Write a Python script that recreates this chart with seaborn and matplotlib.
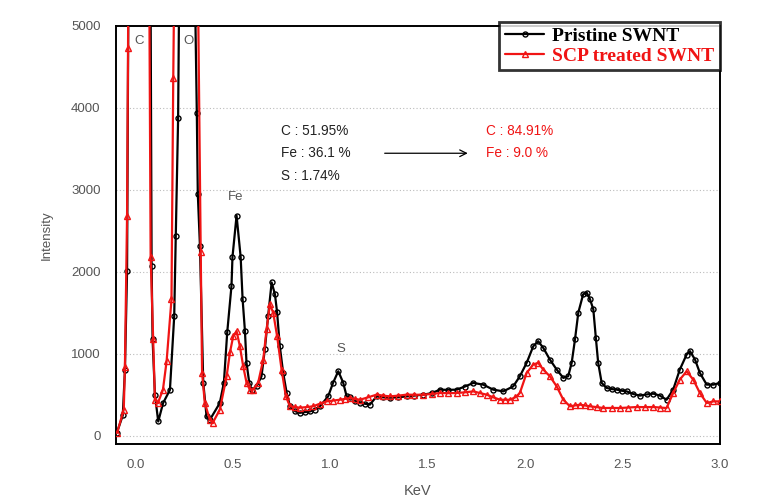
import numpy as np
import pandas as pd
import matplotlib
matplotlib.use("Agg")
import matplotlib.pyplot as plt
import seaborn as sns

# ---------------- data ----------------
pristine_kev = [-0.095, -0.065, -0.054, -0.043, -0.035, -0.02, 0.0, 0.02, 0.04, 0.06, 0.078,
                0.083, 0.088, 0.100, 0.117, 0.142, 0.177, 0.199, 0.207, 0.219, 0.23, 0.25,
                0.28, 0.305, 0.315, 0.320, 0.331, 0.348, 0.365, 0.382,
                0.433, 0.454, 0.471, 0.493, 0.498, 0.519, 0.540, 0.550, 0.562, 0.570,
                0.584, 0.596, 0.622, 0.647, 0.664, 0.681, 0.699, 0.716, 0.727, 0.741,
                0.758, 0.776, 0.793, 0.820, 0.844, 0.870, 0.895, 0.920, 0.947, 0.989,
                1.015, 1.041, 1.066, 1.084, 1.101, 1.125, 1.152, 1.180, 1.203, 1.238,
                1.270, 1.306, 1.350, 1.392, 1.430, 1.477, 1.520, 1.563, 1.605, 1.648,
                1.690, 1.734, 1.785, 1.836, 1.888, 1.939, 1.973, 2.008, 2.042, 2.067,
                2.093, 2.127, 2.162, 2.196, 2.221, 2.239, 2.256, 2.273, 2.298, 2.316,
                2.333, 2.350, 2.363, 2.375, 2.393, 2.418, 2.445, 2.470, 2.495, 2.521,
                2.555, 2.589, 2.625, 2.658, 2.692, 2.726, 2.760, 2.794, 2.829, 2.846,
                2.872, 2.897, 2.932, 2.966, 3.0]
pristine_int = [40, 250, 800, 2010, 6000, 12000, 16000, 14000, 10000, 6000, 5200,
                2072, 1175, 500, 175, 400, 560, 1460, 2440, 3870, 7000, 12000,
                9000, 5500, 3930, 2950, 2317, 650, 236, 196,
                400, 650, 1260, 1830, 2180, 2685, 2180, 1665, 1277, 890,
                650, 563, 605, 726, 1053, 1460, 1870, 1726, 1505, 1093,
                770, 526, 360, 300, 280, 290, 297, 320, 360, 481,
                650, 787, 650, 481, 470, 430, 400, 390, 380, 481,
                470, 465, 470, 481, 490, 502, 520, 563, 560, 563,
                600, 645, 624, 563, 542, 603, 726, 890, 1093, 1154,
                1073, 930, 808, 706, 726, 890, 1175, 1502, 1726, 1747,
                1665, 1542, 1196, 890, 645, 584, 570, 563, 550, 542,
                510, 490, 505, 514, 490, 440, 563, 808, 991, 1032,
                930, 767, 624, 624, 645]

treated_kev = [-0.094, -0.060, -0.054, -0.043, -0.038, -0.03, -0.01, 0.01, 0.03, 0.05, 0.07,
               0.078, 0.091, 0.100, 0.115, 0.141, 0.160, 0.185, 0.194, 0.21, 0.24,
               0.27, 0.30, 0.322, 0.335, 0.342, 0.356, 0.382, 0.397,
               0.433, 0.468, 0.485, 0.502, 0.519, 0.536, 0.553, 0.570, 0.587, 0.604,
               0.630, 0.656, 0.673, 0.690, 0.707, 0.727, 0.750, 0.772, 0.793, 0.820,
               0.844, 0.878, 0.912, 0.945, 0.981, 1.015, 1.049, 1.075, 1.101, 1.125,
               1.152, 1.195, 1.238, 1.270, 1.306, 1.350, 1.392, 1.430, 1.477, 1.520,
               1.563, 1.605, 1.648, 1.690, 1.734, 1.770, 1.802, 1.836, 1.871, 1.897,
               1.922, 1.950, 1.973, 2.008, 2.042, 2.067, 2.093, 2.127, 2.162, 2.196,
               2.230, 2.255, 2.281, 2.307, 2.333, 2.367, 2.401, 2.445, 2.487, 2.530,
               2.572, 2.615, 2.658, 2.692, 2.726, 2.760, 2.794, 2.829, 2.863, 2.897,
               2.932, 2.966, 3.0]
treated_int = [37, 320, 845, 2685, 4725, 9000, 15000, 16000, 13000, 9000, 6000,
               2180, 1175, 440, 400, 560, 910, 1665, 4357, 8000, 14000,
               12000, 8000, 5200, 2240, 770, 400, 195, 160,
               318, 726, 1016, 1216, 1277, 1093, 848, 650, 563, 563,
               650, 930, 1297, 1603, 1502, 1216, 808, 481, 360, 350,
               343, 350, 360, 390, 420, 430, 440, 450, 461, 450,
               440, 470, 502, 490, 481, 490, 502, 500, 502, 510,
               522, 520, 522, 530, 542, 520, 502, 470, 440, 440,
               440, 470, 522, 767, 869, 890, 808, 726, 603, 440,
               360, 370, 380, 370, 360, 350, 339, 340, 339, 345,
               351, 350, 351, 345, 339, 522, 685, 787, 685, 522,
               400, 420, 420]

series_names = ["Pristine SWNT", "SCP treated SWNT"]
x_ticks = [0.0, 0.5, 1.0, 1.5, 2.0, 2.5, 3.0]
y_ticks = [0, 1000, 2000, 3000, 4000, 5000]
peak_labels = ["C", "O", "Fe", "S"]
peak_label_x = [-0.005, 0.245, 0.515, 1.054]
peak_label_y = [4810, 4810, 2913, 1053]
before_text = ["C : 51.95%", "Fe : 36.1 %", "S : 1.74%"]
after_text = ["C : 84.91%", "Fe : 9.0 %"]

RED = "#f01414"

# ---------------- figure ----------------
sns.set_theme(style="white")
plt.rcParams["font.family"] = ["Liberation Sans", "DejaVu Sans"]

fig = plt.figure(figsize=(7.7, 5.04), dpi=100)
ax = fig.add_axes([0.1506, 0.119, 0.7844, 0.830])

df_p = pd.DataFrame({"KeV": pristine_kev, "Intensity": pristine_int})
df_t = pd.DataFrame({"KeV": treated_kev, "Intensity": treated_int})

sns.lineplot(data=df_p, x="KeV", y="Intensity", ax=ax, sort=False, estimator=None,
             color="black", lw=1.6, marker="o", markersize=3.6, markerfacecolor="none",
             markeredgecolor="black", markeredgewidth=1.0, label=series_names[0], zorder=3)
sns.lineplot(data=df_t, x="KeV", y="Intensity", ax=ax, sort=False, estimator=None,
             color=RED, lw=1.6, marker="^", markersize=3.8, markerfacecolor="none",
             markeredgecolor=RED, markeredgewidth=1.0, label=series_names[1], zorder=4)

ax.set_xlim(-0.1, 3.0)
ax.set_ylim(-100, 5000)
ax.set_xticks(x_ticks)
ax.set_xticklabels([f"{v:.1f}" for v in x_ticks])
ax.set_yticks(y_ticks)
ax.set_yticklabels([str(v) for v in y_ticks])
ax.tick_params(axis="both", direction="out", length=4, width=1.2, color="black",
               labelsize=9.5, labelcolor="#555555")
ax.tick_params(axis="x", pad=7)
ax.tick_params(axis="y", pad=7)
ax.yaxis.grid(True, linestyle=(0, (1, 2)), color="#bbbbbb", lw=0.8)
ax.xaxis.grid(False)
for s in ax.spines.values():
    s.set_color("black")
    s.set_linewidth(1.4)

ax.set_xlabel("KeV", fontsize=10.5, color="#555555", labelpad=9)
ax.set_ylabel("Intensity", fontsize=9.5, color="#555555", labelpad=13)

for lab, xv, yv in zip(peak_labels, peak_label_x, peak_label_y):
    ax.text(xv, yv, lab, fontsize=9.5, color="#555555",
            ha="left" if lab in ("C", "O") else "center", va="center", zorder=5)

for i, t in enumerate(before_text):
    ax.text(0.745, 3720 - i * 275, t, fontsize=9.8, color="#222222", ha="left", va="center")
for i, t in enumerate(after_text):
    ax.text(1.80, 3720 - i * 275, t, fontsize=9.8, color=RED, ha="left", va="center")
ax.annotate("", xy=(1.72, 3445), xytext=(1.265, 3445),
            arrowprops=dict(arrowstyle="->", color="black", lw=0.9))

leg = ax.legend(loc="upper right", bbox_to_anchor=(1.0, 1.01), borderaxespad=0,
                frameon=True, fancybox=False, shadow=False, handlelength=2.0,
                prop={"family": "Liberation Serif", "weight": "bold", "size": 14},
                borderpad=0.3, labelspacing=0.1, handletextpad=0.4)
leg.get_frame().set_edgecolor("black")
leg.get_frame().set_linewidth(2.0)
for txt, col in zip(leg.get_texts(), ["black", RED]):
    txt.set_color(col)

fig.savefig("out.png", dpi=100, facecolor="white")
